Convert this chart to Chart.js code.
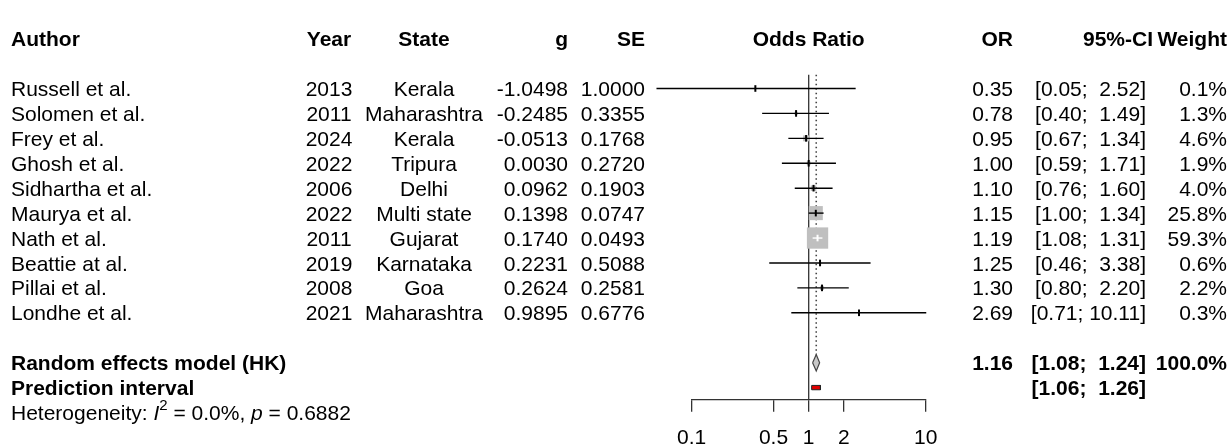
<!DOCTYPE html>
<html>
<head>
<meta charset="utf-8">
<script src="https://cdn.jsdelivr.net/npm/chart.js@4.4.1/dist/chart.umd.min.js"></script>
<style>
  html, body { margin: 0; padding: 0; background: #fff; }
  #forest { display: block; }
</style>
</head>
<body>
<canvas id="forest" width="1231" height="448"></canvas>
<script>
// ---- study data ----
const authors = ["Russell et al.", "Solomen et al.", "Frey et al.", "Ghosh et al.", "Sidhartha et al.",
                 "Maurya et al.", "Nath et al.", "Beattie at al.", "Pillai et al.", "Londhe et al."];
const years = [2013, 2011, 2024, 2022, 2006, 2022, 2011, 2019, 2008, 2021];
const states = ["Kerala", "Maharashtra", "Kerala", "Tripura", "Delhi",
                "Multi state", "Gujarat", "Karnataka", "Goa", "Maharashtra"];
const gValues = [-1.0498, -0.2485, -0.0513, 0.0030, 0.0962, 0.1398, 0.1740, 0.2231, 0.2624, 0.9895];
const seValues = [1.0000, 0.3355, 0.1768, 0.2720, 0.1903, 0.0747, 0.0493, 0.5088, 0.2581, 0.6776];
const oddsRatios = [0.35, 0.78, 0.95, 1.00, 1.10, 1.15, 1.19, 1.25, 1.30, 2.69];
const ciLower = [0.05, 0.40, 0.67, 0.59, 0.76, 1.00, 1.08, 0.46, 0.80, 0.71];
const ciUpper = [2.52, 1.49, 1.34, 1.71, 1.60, 1.34, 1.31, 3.38, 2.20, 10.11];
const weights = [0.1, 1.3, 4.6, 1.9, 4.0, 25.8, 59.3, 0.6, 2.2, 0.3];

// ---- pooled estimate ----
const pooledOR = 1.16;
const pooledCI = [1.08, 1.24];
const pooledWeight = 100.0;
const predictionCI = [1.06, 1.26];
const hetI2 = "0.0%";
const hetP = "0.6882";

// ---- axis ----
const axisTicks = [0.1, 0.5, 1, 2, 10];

// ---- layout rows (in row units, top to bottom) ----
const ROW_HEADER = 0;
const studyRow = (i) => i + 2;
const ROW_POOLED = 13;
const ROW_PRED = 14;
const ROW_HET = 15;
const ROW_LINE_TOP = 1.45;
const ROW_AXIS = 14.47;
const DIAMOND_HALF = 0.33;
const PRED_HALF = 0.087;

const FONT = '"Liberation Sans", Arial, Helvetica, sans-serif';
const FS = 21;
const MAX_SIDE = 21.3;
const maxWeight = Math.max(...weights);
const squareSide = (w) => MAX_SIDE * Math.sqrt(w / maxWeight);

function ciInsideSquare(chart, i) {
  const xs = chart.scales.x;
  if (!xs) return false;
  const c = xs.getPixelForValue(oddsRatios[i]);
  const half = squareSide(weights[i]) / 2;
  return xs.getPixelForValue(ciLower[i]) >= c - half && xs.getPixelForValue(ciUpper[i]) <= c + half;
}

const fmtCI = (lo, hi) => '[' + lo.toFixed(2) + '; ' + hi.toFixed(2).padStart(5, ' ') + ']';

// ---- datasets ----
const datasets = [];

// line of no effect
datasets.push({
  type: 'line', data: [{ x: 1, y: ROW_LINE_TOP }, { x: 1, y: ROW_AXIS }],
  borderColor: '#333', borderWidth: 1.3, pointRadius: 0, fill: false, clip: false, order: 10
});
// pooled estimate (dotted)
datasets.push({
  type: 'line', data: [{ x: pooledOR, y: ROW_LINE_TOP }, { x: pooledOR, y: ROW_POOLED - DIAMOND_HALF }],
  borderColor: '#444', borderWidth: 1.6, borderDash: [1.5, 3], pointRadius: 0, fill: false, clip: false, order: 9
});
// weighted squares
datasets.push({
  type: 'scatter',
  data: oddsRatios.map((v, i) => ({ x: v, y: studyRow(i) })),
  pointStyle: 'rect',
  pointRadius: (c) => squareSide(weights[c.dataIndex]) / Math.SQRT2,
  pointBackgroundColor: '#bfbfbf', pointBorderColor: '#bfbfbf', pointBorderWidth: 0,
  clip: false, order: 5
});
// confidence intervals
oddsRatios.forEach((v, i) => {
  datasets.push({
    type: 'line',
    data: [{ x: ciLower[i], y: studyRow(i) }, { x: ciUpper[i], y: studyRow(i) }],
    borderColor: (c) => ciInsideSquare(c.chart, i) ? '#fff' : '#000',
    borderWidth: 1.4, pointRadius: 0, fill: false, clip: false, order: 3
  });
});
// point estimates
datasets.push({
  type: 'scatter',
  data: oddsRatios.map((v, i) => ({ x: v, y: studyRow(i) })),
  pointStyle: 'line', pointRotation: 90, pointRadius: 3.3, pointBorderWidth: 2,
  pointBorderColor: (c) => ciInsideSquare(c.chart, c.dataIndex) ? '#fff' : '#000',
  clip: false, order: 2
});
// pooled diamond
datasets.push({
  type: 'line',
  data: [
    { x: pooledCI[0], y: ROW_POOLED }, { x: pooledOR, y: ROW_POOLED - DIAMOND_HALF },
    { x: pooledCI[1], y: ROW_POOLED }, { x: pooledOR, y: ROW_POOLED + DIAMOND_HALF },
    { x: pooledCI[0], y: ROW_POOLED }
  ],
  fill: 'shape', backgroundColor: '#c8c8c8', borderColor: '#444', borderWidth: 1.2,
  pointRadius: 0, tension: 0, clip: false, order: 4
});
// prediction interval bar
datasets.push({
  type: 'line',
  data: [
    { x: predictionCI[0], y: ROW_PRED - PRED_HALF }, { x: predictionCI[1], y: ROW_PRED - PRED_HALF },
    { x: predictionCI[1], y: ROW_PRED + PRED_HALF }, { x: predictionCI[0], y: ROW_PRED + PRED_HALF },
    { x: predictionCI[0], y: ROW_PRED - PRED_HALF }
  ],
  fill: 'shape', backgroundColor: '#e10000', borderColor: '#222', borderWidth: 1,
  pointRadius: 0, tension: 0, clip: false, order: 4
});

// ---- table text ----
function put(ctx, text, x, y, align, bold) {
  ctx.font = (bold ? 'bold ' : '') + FS + 'px ' + FONT;
  ctx.textAlign = align;
  ctx.textBaseline = 'alphabetic';
  ctx.fillText(text, x, y + 0.36 * FS);
}

const tableText = {
  id: 'tableText',
  afterDraw(chart) {
    const ctx = chart.ctx;
    const ys = chart.scales.y;
    const rowY = (r) => ys.getPixelForValue(r);
    ctx.save();
    ctx.fillStyle = '#000';

    const hy = rowY(ROW_HEADER);
    put(ctx, 'Author', 11, hy, 'left', true);
    put(ctx, 'Year', 329, hy, 'center', true);
    put(ctx, 'State', 424, hy, 'center', true);
    put(ctx, 'g', 568, hy, 'right', true);
    put(ctx, 'SE', 645, hy, 'right', true);
    put(ctx, 'Odds Ratio', chart.scales.x.getPixelForValue(1), hy, 'center', true);
    put(ctx, 'OR', 1013, hy, 'right', true);
    put(ctx, '95%-CI', 1153, hy, 'right', true);
    put(ctx, 'Weight', 1227, hy, 'right', true);

    authors.forEach((a, i) => {
      const y = rowY(studyRow(i));
      put(ctx, a, 11, y, 'left', false);
      put(ctx, String(years[i]), 329, y, 'center', false);
      put(ctx, states[i], 424, y, 'center', false);
      put(ctx, gValues[i].toFixed(4), 568, y, 'right', false);
      put(ctx, seValues[i].toFixed(4), 645, y, 'right', false);
      put(ctx, oddsRatios[i].toFixed(2), 1013, y, 'right', false);
      put(ctx, fmtCI(ciLower[i], ciUpper[i]), 1146, y, 'right', false);
      put(ctx, weights[i].toFixed(1) + '%', 1227, y, 'right', false);
    });

    const py = rowY(ROW_POOLED);
    put(ctx, 'Random effects model (HK)', 11, py, 'left', true);
    put(ctx, pooledOR.toFixed(2), 1013, py, 'right', true);
    put(ctx, fmtCI(pooledCI[0], pooledCI[1]), 1146, py, 'right', true);
    put(ctx, pooledWeight.toFixed(1) + '%', 1227, py, 'right', true);

    const ry = rowY(ROW_PRED);
    put(ctx, 'Prediction interval', 11, ry, 'left', true);
    put(ctx, fmtCI(predictionCI[0], predictionCI[1]), 1146, ry, 'right', true);

    // heterogeneity line with italic symbols and superscript
    const base = rowY(ROW_HET) + 0.36 * FS;
    let cx = 11;
    ctx.textAlign = 'left';
    const seg = (t, font, dy) => {
      ctx.font = font;
      ctx.fillText(t, cx, base + (dy || 0));
      cx += ctx.measureText(t).width;
    };
    seg('Heterogeneity: ', FS + 'px ' + FONT);
    seg('I', 'italic ' + FS + 'px ' + FONT);
    seg('2', Math.round(FS * 0.7) + 'px ' + FONT, -FS * 0.5);
    seg(' = ' + hetI2 + ', ', FS + 'px ' + FONT);
    seg('p', 'italic ' + FS + 'px ' + FONT);
    seg(' = ' + hetP, FS + 'px ' + FONT);
    ctx.restore();
  }
};

const AXIS_Y = 399.3;

new Chart(document.getElementById('forest'), {
  type: 'scatter',
  data: { datasets },
  options: {
    responsive: false,
    animation: false,
    events: [],
    layout: { padding: { left: 691.7, right: 305.3, top: 0, bottom: 0 } },
    plugins: { legend: { display: false }, tooltip: { enabled: false } },
    scales: {
      x: {
        type: 'logarithmic', min: 0.1, max: 10, position: 'bottom',
        afterBuildTicks: (s) => { s.ticks = axisTicks.map((v) => ({ value: v })); },
        afterFit: (s) => { s.height = 448 - AXIS_Y; },
        ticks: {
          color: '#000', font: { family: FONT, size: FS }, padding: 13.7,
          maxRotation: 0, autoSkip: false, callback: (v) => String(v)
        },
        grid: { drawOnChartArea: false, drawTicks: true, tickLength: 12.4, color: '#333', lineWidth: 1.3 },
        border: { display: true, color: '#333', width: 1.3 }
      },
      y: { type: 'linear', reverse: true, min: -0.946, max: ROW_AXIS, display: false }
    }
  },
  plugins: [tableText]
});
</script>
</body>
</html>
